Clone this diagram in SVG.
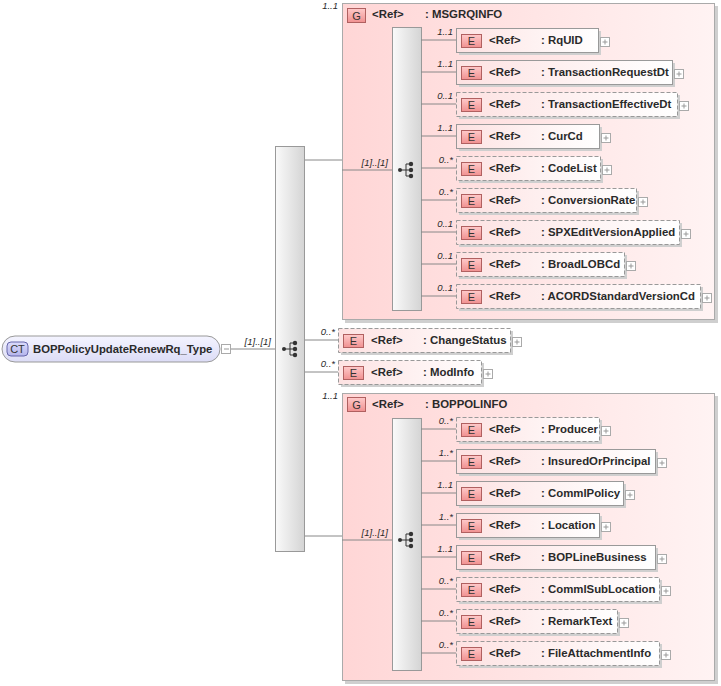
<svg xmlns="http://www.w3.org/2000/svg" width="721" height="686" viewBox="0 0 721 686">
<defs>
<linearGradient id="gElem" x1="0" y1="0" x2="1" y2="0"><stop offset="0" stop-color="#fde2e2"/><stop offset="1" stop-color="#ffffff"/></linearGradient>
<linearGradient id="gGroup" x1="0" y1="0" x2="1" y2="0"><stop offset="0" stop-color="#ffd6d6"/><stop offset="1" stop-color="#fff3f3"/></linearGradient>
<linearGradient id="gBar" x1="0" y1="0" x2="1" y2="0"><stop offset="0" stop-color="#fafafa"/><stop offset="1" stop-color="#d4d4d4"/></linearGradient>
<linearGradient id="gBadge" x1="0" y1="0" x2="0" y2="1"><stop offset="0" stop-color="#ffcaca"/><stop offset="1" stop-color="#f09090"/></linearGradient>
<linearGradient id="gCT" x1="0" y1="0" x2="0" y2="1"><stop offset="0" stop-color="#f4f4ff"/><stop offset="1" stop-color="#dcdcf6"/></linearGradient>
<linearGradient id="gCTb" x1="0" y1="0" x2="0" y2="1"><stop offset="0" stop-color="#dcdcfc"/><stop offset="1" stop-color="#b4b4ec"/></linearGradient>
<g id="plus"><rect x="0.5" y="0.5" width="9" height="9" fill="#fff" stroke="#aaa"/><path d="M2.5 5H7.5M5 2.5V7.5" stroke="#999"/></g>
<g id="seq"><circle cx="-7" cy="0" r="2" fill="#333"/><path d="M-7 0H-1M-1 -6V6M-1 -6H4M-1 0H4M-1 6H4" stroke="#333" fill="none"/><circle cx="4" cy="-6" r="2.2" fill="#333"/><circle cx="4" cy="0" r="2.2" fill="#333"/><circle cx="4" cy="6" r="2.2" fill="#333"/></g>
</defs>
<style>
text{font-family:"Liberation Sans",Arial,sans-serif;fill:#2a2a2a}
.nm{font-size:11.4px;font-weight:bold}
.ref{font-size:11.4px;font-weight:bold}
.card{font-size:9.5px;font-style:italic;text-anchor:end}
.badge{font-size:11px;text-anchor:middle;fill:#333}
.eb{fill:url(#gElem);stroke:#999}
.opt{stroke-dasharray:4 2}
.sh{fill:#cfcfcf}
.bdg{fill:url(#gBadge);stroke:#b06060}
.bar{fill:url(#gBar);stroke:#999}
.ln{stroke:#888;fill:none}
</style>

<g id="root">
<rect x="2" y="336" width="218" height="26" rx="13" fill="url(#gCT)" stroke="#999"/>
<rect x="7" y="342" width="21" height="14" rx="4" fill="url(#gCTb)" stroke="#6666aa"/>
<text class="badge" x="17.5" y="353">CT</text>
<text class="nm" x="33" y="353" style="font-size:11.3px">BOPPolicyUpdateRenewRq_Type</text>
<rect x="221.5" y="344.5" width="9" height="9" fill="#fff" stroke="#aaa"/><path d="M224 349H229" stroke="#999"/>
</g>

<g id="mainSeq">
<rect class="bar" x="275.5" y="146.5" width="29" height="405"/>
<use href="#seq" x="291" y="349"/>
</g>

<g id="MSGRQINFO">
<rect class="sh" x="345" y="6" width="373" height="317"/>
<rect x="342.5" y="3.5" width="372" height="316" fill="url(#gGroup)" stroke="#aaa"/>
<text class="card" x="338" y="9">1..1</text>
<rect class="bdg" x="347.5" y="8.5" width="18" height="14"/>
<text class="badge" x="356.5" y="20">G</text>
<text class="ref" x="372" y="18">&lt;Ref&gt;</text>
<text class="nm" x="425" y="18">: MSGRQINFO</text>
<rect class="bar" x="392.5" y="27.5" width="29" height="283"/>
<use href="#seq" x="407" y="170"/>
</g>

<g id="RqUID"><text class="card" x="453" y="35">1..1</text><rect class="sh" x="459" y="31" width="142" height="24"/><rect class="eb" x="456.5" y="28.5" width="142" height="24"/><rect class="bdg" x="461.5" y="34.5" width="20" height="13"/><text class="badge" x="471.5" y="45">E</text><text class="ref" x="489" y="44">&lt;Ref&gt;</text><text class="nm" x="541" y="44">: RqUID</text><use href="#plus" x="600" y="37"/></g>
<g id="TransactionRequestDt"><text class="card" x="453" y="67">1..1</text><rect class="sh" x="459" y="63" width="216" height="24"/><rect class="eb" x="456.5" y="60.5" width="216" height="24"/><rect class="bdg" x="461.5" y="66.5" width="20" height="13"/><text class="badge" x="471.5" y="77">E</text><text class="ref" x="489" y="76">&lt;Ref&gt;</text><text class="nm" x="541" y="76">: TransactionRequestDt</text><use href="#plus" x="674" y="69"/></g>
<g id="TransactionEffectiveDt"><text class="card" x="453" y="99">0..1</text><rect class="sh" x="459" y="95" width="221" height="24"/><rect class="eb opt" x="456.5" y="92.5" width="221" height="24"/><rect class="bdg" x="461.5" y="98.5" width="20" height="13"/><text class="badge" x="471.5" y="109">E</text><text class="ref" x="489" y="108">&lt;Ref&gt;</text><text class="nm" x="541" y="108">: TransactionEffectiveDt</text><use href="#plus" x="679" y="101"/></g>
<g id="CurCd"><text class="card" x="453" y="131">1..1</text><rect class="sh" x="459" y="127" width="143" height="24"/><rect class="eb" x="456.5" y="124.5" width="143" height="24"/><rect class="bdg" x="461.5" y="130.5" width="20" height="13"/><text class="badge" x="471.5" y="141">E</text><text class="ref" x="489" y="140">&lt;Ref&gt;</text><text class="nm" x="541" y="140">: CurCd</text><use href="#plus" x="601" y="133"/></g>
<g id="CodeList"><text class="card" x="453" y="163">0..*</text><rect class="sh" x="459" y="159" width="144" height="24"/><rect class="eb opt" x="456.5" y="156.5" width="144" height="24"/><rect class="bdg" x="461.5" y="162.5" width="20" height="13"/><text class="badge" x="471.5" y="173">E</text><text class="ref" x="489" y="172">&lt;Ref&gt;</text><text class="nm" x="541" y="172">: CodeList</text><use href="#plus" x="602" y="165"/></g>
<g id="ConversionRate"><text class="card" x="453" y="195">0..*</text><rect class="sh" x="459" y="191" width="180" height="24"/><rect class="eb opt" x="456.5" y="188.5" width="180" height="24"/><rect class="bdg" x="461.5" y="194.5" width="20" height="13"/><text class="badge" x="471.5" y="205">E</text><text class="ref" x="489" y="204">&lt;Ref&gt;</text><text class="nm" x="541" y="204">: ConversionRate</text><use href="#plus" x="638" y="197"/></g>
<g id="SPXEditVersionApplied"><text class="card" x="453" y="227">0..1</text><rect class="sh" x="459" y="223" width="223" height="24"/><rect class="eb opt" x="456.5" y="220.5" width="223" height="24"/><rect class="bdg" x="461.5" y="226.5" width="20" height="13"/><text class="badge" x="471.5" y="237">E</text><text class="ref" x="489" y="236">&lt;Ref&gt;</text><text class="nm" x="541" y="236">: SPXEditVersionApplied</text><use href="#plus" x="681" y="229"/></g>
<g id="BroadLOBCd"><text class="card" x="453" y="259">0..1</text><rect class="sh" x="459" y="255" width="168" height="24"/><rect class="eb opt" x="456.5" y="252.5" width="168" height="24"/><rect class="bdg" x="461.5" y="258.5" width="20" height="13"/><text class="badge" x="471.5" y="269">E</text><text class="ref" x="489" y="268">&lt;Ref&gt;</text><text class="nm" x="541" y="268">: BroadLOBCd</text><use href="#plus" x="626" y="261"/></g>
<g id="ACORDStandardVersionCd"><text class="card" x="453" y="291">0..1</text><rect class="sh" x="459" y="287" width="244" height="24"/><rect class="eb opt" x="456.5" y="284.5" width="244" height="24"/><rect class="bdg" x="461.5" y="290.5" width="20" height="13"/><text class="badge" x="471.5" y="301">E</text><text class="ref" x="489" y="300">&lt;Ref&gt;</text><text class="nm" x="541" y="300">: ACORDStandardVersionCd</text><use href="#plus" x="702" y="293"/></g>

<g id="ChangeStatus"><text class="card" x="335" y="335">0..*</text><rect class="sh" x="341" y="331" width="172" height="24"/><rect class="eb opt" x="338.5" y="328.5" width="172" height="24"/><rect class="bdg" x="343.5" y="334.5" width="20" height="13"/><text class="badge" x="353.5" y="345">E</text><text class="ref" x="371" y="344">&lt;Ref&gt;</text><text class="nm" x="423" y="344">: ChangeStatus</text><use href="#plus" x="512" y="337"/></g>
<g id="ModInfo"><text class="card" x="335" y="367">0..*</text><rect class="sh" x="341" y="363" width="143" height="24"/><rect class="eb opt" x="338.5" y="360.5" width="143" height="24"/><rect class="bdg" x="343.5" y="366.5" width="20" height="13"/><text class="badge" x="353.5" y="377">E</text><text class="ref" x="371" y="376">&lt;Ref&gt;</text><text class="nm" x="423" y="376">: ModInfo</text><use href="#plus" x="483" y="369"/></g>

<g id="BOPPOLINFO">
<rect class="sh" x="345" y="396" width="373" height="288"/>
<rect x="342.5" y="393.5" width="372" height="287" fill="url(#gGroup)" stroke="#aaa"/>
<text class="card" x="338" y="399">1..1</text>
<rect class="bdg" x="347.5" y="397.5" width="18" height="14"/>
<text class="badge" x="356.5" y="409">G</text>
<text class="ref" x="372" y="408">&lt;Ref&gt;</text>
<text class="nm" x="425" y="408">: BOPPOLINFO</text>
<rect class="bar" x="392.5" y="418.5" width="29" height="252"/>
<use href="#seq" x="407" y="540"/>
</g>

<g id="Producer"><text class="card" x="453" y="424">0..*</text><rect class="sh" x="459" y="420" width="143" height="24"/><rect class="eb opt" x="456.5" y="417.5" width="143" height="24"/><rect class="bdg" x="461.5" y="423.5" width="20" height="13"/><text class="badge" x="471.5" y="434">E</text><text class="ref" x="489" y="433">&lt;Ref&gt;</text><text class="nm" x="541" y="433">: Producer</text><use href="#plus" x="601" y="426"/></g>
<g id="InsuredOrPrincipal"><text class="card" x="453" y="456">1..*</text><rect class="sh" x="459" y="452" width="199" height="24"/><rect class="eb" x="456.5" y="449.5" width="199" height="24"/><rect class="bdg" x="461.5" y="455.5" width="20" height="13"/><text class="badge" x="471.5" y="466">E</text><text class="ref" x="489" y="465">&lt;Ref&gt;</text><text class="nm" x="541" y="465">: InsuredOrPrincipal</text><use href="#plus" x="657" y="458"/></g>
<g id="CommlPolicy"><text class="card" x="453" y="488">1..1</text><rect class="sh" x="459" y="484" width="167" height="24"/><rect class="eb" x="456.5" y="481.5" width="167" height="24"/><rect class="bdg" x="461.5" y="487.5" width="20" height="13"/><text class="badge" x="471.5" y="498">E</text><text class="ref" x="489" y="497">&lt;Ref&gt;</text><text class="nm" x="541" y="497">: CommlPolicy</text><use href="#plus" x="625" y="490"/></g>
<g id="Location"><text class="card" x="453" y="520">1..*</text><rect class="sh" x="459" y="516" width="143" height="24"/><rect class="eb" x="456.5" y="513.5" width="143" height="24"/><rect class="bdg" x="461.5" y="519.5" width="20" height="13"/><text class="badge" x="471.5" y="530">E</text><text class="ref" x="489" y="529">&lt;Ref&gt;</text><text class="nm" x="541" y="529">: Location</text><use href="#plus" x="601" y="522"/></g>
<g id="BOPLineBusiness"><text class="card" x="453" y="552">1..1</text><rect class="sh" x="459" y="548" width="199" height="24"/><rect class="eb" x="456.5" y="545.5" width="199" height="24"/><rect class="bdg" x="461.5" y="551.5" width="20" height="13"/><text class="badge" x="471.5" y="562">E</text><text class="ref" x="489" y="561">&lt;Ref&gt;</text><text class="nm" x="541" y="561">: BOPLineBusiness</text><use href="#plus" x="657" y="554"/></g>
<g id="CommlSubLocation"><text class="card" x="453" y="584">0..*</text><rect class="sh" x="459" y="580" width="203" height="24"/><rect class="eb opt" x="456.5" y="577.5" width="203" height="24"/><rect class="bdg" x="461.5" y="583.5" width="20" height="13"/><text class="badge" x="471.5" y="594">E</text><text class="ref" x="489" y="593">&lt;Ref&gt;</text><text class="nm" x="541" y="593">: CommlSubLocation</text><use href="#plus" x="661" y="586"/></g>
<g id="RemarkText"><text class="card" x="453" y="616">0..*</text><rect class="sh" x="459" y="612" width="161" height="24"/><rect class="eb opt" x="456.5" y="609.5" width="161" height="24"/><rect class="bdg" x="461.5" y="615.5" width="20" height="13"/><text class="badge" x="471.5" y="626">E</text><text class="ref" x="489" y="625">&lt;Ref&gt;</text><text class="nm" x="541" y="625">: RemarkText</text><use href="#plus" x="619" y="618"/></g>
<g id="FileAttachmentInfo"><text class="card" x="453" y="648">0..*</text><rect class="sh" x="459" y="644" width="203" height="24"/><rect class="eb opt" x="456.5" y="641.5" width="203" height="24"/><rect class="bdg" x="461.5" y="647.5" width="20" height="13"/><text class="badge" x="471.5" y="658">E</text><text class="ref" x="489" y="657">&lt;Ref&gt;</text><text class="nm" x="541" y="657">: FileAttachmentInfo</text><use href="#plus" x="661" y="650"/></g>

<g id="connectors">
<path class="ln" d="M231 349H275"/>
<path class="ln" d="M305 160H342M305 340H338M305 372H338M305 536H342"/>
<path class="ln" d="M342 170H392M342 540H392"/>
<path class="ln" d="M421 40H456M421 72H456M421 104H456M421 136H456M421 168H456M421 200H456M421 232H456M421 264H456M421 296H456"/>
<path class="ln" d="M421 429H456M421 461H456M421 493H456M421 525H456M421 557H456M421 589H456M421 621H456M421 653H456"/>
<text class="card" x="271" y="345">[1]..[1]</text>
<text class="card" x="388" y="166">[1]..[1]</text>
<text class="card" x="388" y="536">[1]..[1]</text>
</g>
</svg>
